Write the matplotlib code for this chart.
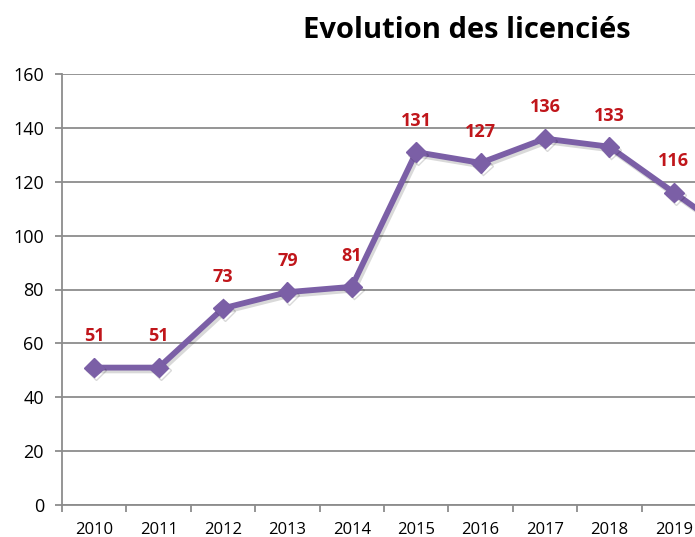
import matplotlib.pyplot as plt
import matplotlib.patheffects as pe

years = ['2010', '2011', '2012', '2013', '2014', '2015', '2016', '2017', '2018', '2019', '2020']
licencies = [51, 51, 73, 79, 81, 131, 127, 136, 133, 116, 99]
yticks = [0, 20, 40, 60, 80, 100, 120, 140, 160]

plt.rcParams['font.family'] = ['Open Sans', 'DejaVu Sans']

W, H = 695, 537
fig = plt.figure(figsize=(W / 100, H / 100), dpi=100)
# axes run past the right edge, the original picture is cropped
left, right, bottom, top = 62, 62 + 11 * 64.4, 505, 74
ax = fig.add_axes([left / W, (H - bottom) / H, (right - left) / W, (bottom - top) / H])

x = list(range(len(years)))
ax.plot(x, licencies, color='#7b5fa6', lw=4.2, marker='D', markersize=10,
        solid_joinstyle='round',
        path_effects=[pe.SimpleLineShadow(offset=(1.5, -2), alpha=0.15), pe.Normal()])

# last point is off the picture (cropped), so no label for it
for xi, v in zip(x[:-1], licencies[:-1]):
    ax.annotate(str(v), (xi, v), xytext=(0, 16), textcoords='offset points',
                ha='center', va='bottom', color='#c0161b', fontsize=13, fontweight='bold')

ax.set_xlim(-0.5, len(years) - 0.5)
ax.set_ylim(0, 160)
ax.set_yticks(yticks)
ax.set_xticks(x)
ax.set_xticklabels(years[:-1] + [''])
ax.set_xticks([i + 0.5 for i in range(-1, len(years))], minor=True)

ax.yaxis.grid(True, color='#8c8c8c', lw=1.3)
ax.set_axisbelow(True)
for s in ['top', 'right']:
    ax.spines[s].set_visible(False)
for s in ['left', 'bottom']:
    ax.spines[s].set_color('#8c8c8c')
    ax.spines[s].set_linewidth(1.3)

ax.tick_params(axis='y', length=5, width=1.3, color='#8c8c8c', labelsize=13, pad=8)
ax.tick_params(axis='x', which='major', length=0, labelsize=12, pad=12)
ax.tick_params(axis='x', which='minor', length=5, width=1.3, color='#8c8c8c')

fig.text(467 / W, 1 - 30 / H, 'Evolution des licenciés', ha='center', va='center',
         fontsize=21, fontweight='bold')

fig.savefig('out.png', dpi=100)
